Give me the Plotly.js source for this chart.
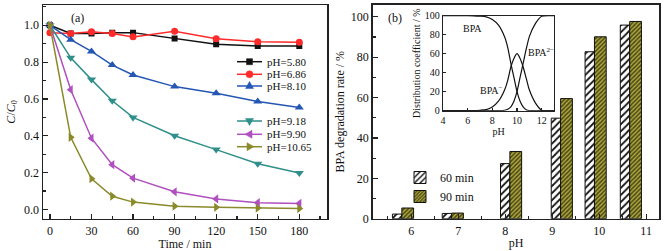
<!DOCTYPE html>
<html>
<head>
<meta charset="utf-8">
<script src="https://cdn.plot.ly/plotly-3.0.1.min.js"></script>
<style>html,body{margin:0;padding:0;background:#fff;}#chart{width:670px;height:251px;}</style>
</head>
<body>
<div id="chart"></div>
<script>
// ---- Panel (a): C/C0 vs time ----
const timeMin = [0, 15, 30, 45, 60, 90, 120, 150, 180];
const c_pH580  = [1.00, 0.955, 0.955, 0.960, 0.960, 0.928, 0.897, 0.888, 0.888];
const c_pH686  = [0.960, 0.955, 0.965, 0.955, 0.937, 0.968, 0.927, 0.910, 0.908];
const c_pH810  = [1.00, 0.922, 0.858, 0.784, 0.730, 0.667, 0.631, 0.586, 0.553];
const c_pH918  = [1.00, 0.823, 0.705, 0.590, 0.500, 0.400, 0.325, 0.248, 0.198];
const c_pH990  = [1.00, 0.650, 0.387, 0.243, 0.170, 0.096, 0.057, 0.037, 0.033];
const c_pH1065 = [1.00, 0.392, 0.167, 0.072, 0.040, 0.018, 0.012, 0.008, 0.005];
const seriesNames = ['pH=5.80', 'pH=6.86', 'pH=8.10', 'pH=9.18', 'pH=9.90', 'pH=10.65'];

// ---- Panel (b): degradation rate bars ----
const barPH = [5.80, 6.86, 8.10, 9.18, 9.90, 10.65];
const rate60 = [2.3, 2.6, 27.3, 49.8, 82.7, 95.9];
const rate90 = [5.3, 2.8, 33.3, 59.5, 90.1, 97.7];
const barNames = ['60 min', '90 min'];

// ---- Inset: BPA speciation ----
const distPH   = [4, 5, 6, 6.5, 7, 7.5, 8, 8.5, 9, 9.25, 9.5, 9.75, 10, 10.25, 10.5, 10.75, 11, 11.5, 12, 13];
const fracBPA  = [100, 100, 100, 99.9, 99.5, 98.8, 96, 90, 77.5, 66.5, 50, 35, 20, 10, 4, 1, 0.2, 0, 0, 0];
const fracBPA1 = [0, 0, 0, 0.1, 0.5, 1.2, 4, 10, 22, 32, 46, 55, 60, 55, 46, 34, 22, 8, 0.5, 0];
const fracBPA2 = [0, 0, 0, 0, 0, 0, 0, 0, 0.5, 1.5, 4, 10, 20, 35, 50, 65, 78, 92, 99.5, 100];

// ---- styles ----
const colors = ['#111111', '#ff2b2b', '#2456b4', '#2f8f8a', '#b04fbf', '#8a8a2a'];
const symbols = ['square', 'circle', 'triangle-up', 'triangle-down', 'triangle-left', 'triangle-right'];
const sizes = [6, 7, 8, 8, 8, 8];
const FONT = '"Liberation Serif", serif';
const W = 670, H = 251;
const px = v => v / W, py = v => 1 - v / H;

const seriesData = [c_pH580, c_pH686, c_pH810, c_pH918, c_pH990, c_pH1065];
const traces = seriesData.map((ys, i) => ({
  type: 'scatter', mode: 'lines+markers', x: timeMin, y: ys, name: seriesNames[i],
  xaxis: 'x', yaxis: 'y', showlegend: false,
  line: {color: colors[i], width: 1.5},
  marker: {symbol: symbols[i], size: sizes[i], color: colors[i]}
}));

traces.push({
  type: 'bar', x: barPH, y: rate60, name: barNames[0], xaxis: 'x2', yaxis: 'y2',
  width: 0.2, offset: -0.2,
  marker: {color: '#ffffff', line: {color: '#111', width: 1},
    pattern: {shape: '/', fgcolor: '#111', bgcolor: '#ffffff', size: 5, solidity: 0.35}}
});
traces.push({
  type: 'bar', x: barPH, y: rate90, name: barNames[1], xaxis: 'x2', yaxis: 'y2',
  width: 0.25, offset: 0,
  marker: {color: '#55561a', line: {color: '#111', width: 1},
    pattern: {shape: '/', fgcolor: '#c2b54a', bgcolor: '#4e4f14', size: 3, solidity: 0.4}}
});

[fracBPA, fracBPA1, fracBPA2].forEach(ys => traces.push({
  type: 'scatter', mode: 'lines', x: distPH, y: ys, xaxis: 'x3', yaxis: 'y3', showlegend: false,
  line: {color: '#111', width: 1.2, shape: 'spline', smoothing: 0.6}
}));

const axBase = {
  showline: true, mirror: true, linecolor: '#222', linewidth: 1.5, showgrid: false, zeroline: false,
  ticks: 'inside', ticklen: 5, tickwidth: 1.2, tickcolor: '#222',
  tickfont: {family: FONT, size: 12, color: '#111'}
};

// custom legend for panel (a)
const legY = [61.7, 74.3, 86, 121, 134.3, 146.7];
const legX0 = 237, legX1 = 262, legTextX = 265;
const markerPaths = {
  'square': 'M-3,-3L3,-3L3,3L-3,3Z',
  'triangle-up': 'M0,4.5L4,-2.5L-4,-2.5Z',
  'triangle-down': 'M0,-4.5L4,2.5L-4,2.5Z',
  'triangle-left': 'M-4.5,0L2.5,4L2.5,-4Z',
  'triangle-right': 'M4.5,0L-2.5,4L-2.5,-4Z'
};
const shapes = [];
const annotations = [];
seriesNames.forEach((nm, i) => {
  shapes.push({type: 'line', xref: 'paper', yref: 'paper', x0: px(legX0), x1: px(legX1),
    y0: py(legY[i]), y1: py(legY[i]), line: {color: colors[i], width: 1.5}});
  const cx = px((legX0 + legX1) / 2), cy = py(legY[i]);
  if (symbols[i] === 'circle') {
    shapes.push({type: 'circle', xref: 'paper', yref: 'paper', xsizemode: 'pixel', ysizemode: 'pixel',
      xanchor: cx, yanchor: cy, x0: -3.5, x1: 3.5, y0: -3.5, y1: 3.5,
      fillcolor: colors[i], line: {color: colors[i], width: 0.5}});
  } else {
    shapes.push({type: 'path', xref: 'paper', yref: 'paper', xsizemode: 'pixel', ysizemode: 'pixel',
      xanchor: cx, yanchor: cy, path: markerPaths[symbols[i]],
      fillcolor: colors[i], line: {color: colors[i], width: 0.5}});
  }
  annotations.push({xref: 'paper', yref: 'paper', x: px(legTextX), y: py(legY[i]), xanchor: 'left', yanchor: 'middle',
    text: nm, showarrow: false, font: {family: FONT, size: 11, color: '#111'}});
});

annotations.push({xref: 'paper', yref: 'paper', x: px(77), y: py(18), text: '(a)', showarrow: false,
  xanchor: 'center', yanchor: 'middle', font: {family: FONT, size: 12, color: '#111'}});
annotations.push({xref: 'paper', yref: 'paper', x: px(395), y: py(18), text: '(b)', showarrow: false,
  xanchor: 'center', yanchor: 'middle', font: {family: FONT, size: 12, color: '#111'}});
// inset species labels
annotations.push({xref: 'x3', yref: 'y3', x: 6.4, y: 86, text: 'BPA', showarrow: false,
  font: {family: FONT, size: 10, color: '#111'}});
annotations.push({xref: 'x3', yref: 'y3', x: 7.9, y: 22, text: 'BPA<sup>−</sup>', showarrow: false,
  font: {family: FONT, size: 10, color: '#111'}});
annotations.push({xref: 'x3', yref: 'y3', x: 10.75, y: 62, xanchor: 'left', text: 'BPA<sup>2−</sup>', showarrow: false,
  font: {family: FONT, size: 10, color: '#111'}});

const layout = {
  width: W, height: H, margin: {l: 0, r: 0, t: 0, b: 0},
  paper_bgcolor: '#ffffff', plot_bgcolor: 'rgba(255,255,255,0)',
  font: {family: FONT, size: 12, color: '#111'},
  barmode: 'overlay', showlegend: true,
  xaxis: Object.assign({}, axBase, {
    domain: [px(43), px(327)], anchor: 'y', range: [-5, 200], tick0: 0, dtick: 30,
    minor: {dtick: 15, ticks: 'inside', ticklen: 3, tickcolor: '#222'},
    title: {text: 'Time / min', font: {family: FONT, size: 12}, standoff: 2}
  }),
  yaxis: Object.assign({}, axBase, {
    domain: [py(218.7), py(5)], anchor: 'x', range: [-0.05, 1.11], tick0: 0, dtick: 0.2, tickformat: '.1f',
    minor: {dtick: 0.1, ticks: 'inside', ticklen: 3, tickcolor: '#222'},
    title: {text: '<i>C</i>/<i>C</i><sub>0</sub>', font: {family: FONT, size: 12}, standoff: 6}
  }),
  xaxis2: Object.assign({}, axBase, {
    domain: [px(372.7), px(659.3)], anchor: 'y2', range: [5.18, 11.28], tick0: 6, dtick: 1,
    minor: {dtick: 0.5, ticks: 'inside', ticklen: 3, tickcolor: '#222'},
    title: {text: 'pH', font: {family: FONT, size: 12}, standoff: 2}
  }),
  yaxis2: Object.assign({}, axBase, {
    domain: [py(218.7), py(4.7)], anchor: 'x2', range: [0, 106], tick0: 0, dtick: 20,
    minor: {dtick: 10, ticks: 'inside', ticklen: 3, tickcolor: '#222'},
    title: {text: 'BPA degradation rate / %', font: {family: FONT, size: 12}, standoff: 3}
  }),
  xaxis3: Object.assign({}, axBase, {
    domain: [px(443), px(554)], anchor: 'y3', range: [4, 13], tick0: 4, dtick: 2,
    linewidth: 1.2, ticklen: 3, tickfont: {family: FONT, size: 10, color: '#111'},
    title: {text: 'pH', font: {family: FONT, size: 10}, standoff: 0}
  }),
  yaxis3: Object.assign({}, axBase, {
    domain: [py(110.7), py(15.7)], anchor: 'x3', range: [0, 100], tick0: 0, dtick: 20,
    linewidth: 1.2, ticklen: 3, tickfont: {family: FONT, size: 10, color: '#111'},
    title: {text: 'Distribution coefficient / %', font: {family: FONT, size: 10}, standoff: 2}
  }),
  legend: {x: px(400), y: py(163), xanchor: 'left', yanchor: 'top', bgcolor: 'rgba(0,0,0,0)',
    font: {family: FONT, size: 12, color: '#111'}, tracegroupgap: 0},
  shapes: shapes,
  annotations: annotations
};

Plotly.newPlot('chart', traces, layout, {displayModeBar: false, staticPlot: true});
</script>
</body>
</html>
